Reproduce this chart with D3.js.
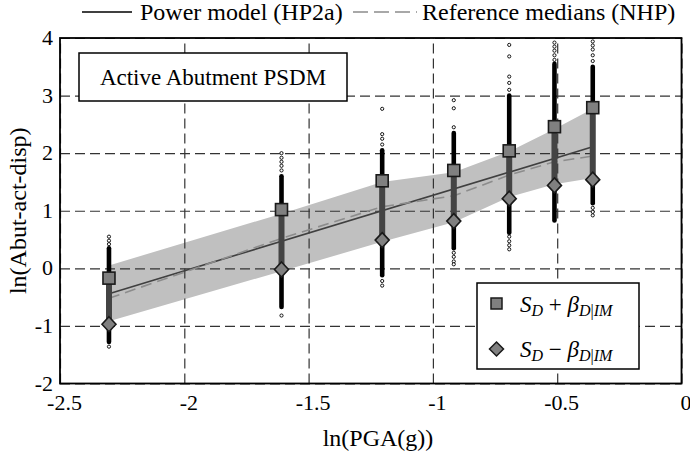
<!DOCTYPE html>
<meta charset="utf-8">
<script src="https://d3js.org/d3.v7.min.js"></script>
<style>
  body { margin: 0; background: #fff; }
  text { font-family: "Liberation Serif", "Times New Roman", serif; fill: #000; }
</style>
<svg id="chart" width="690" height="455"></svg>
<script>

// ln(PGA) of each intensity level (0.1g ... 0.7g)
const lnPGA = [-2.303, -1.609, -1.204, -0.916, -0.693, -0.511, -0.357];
// S_D + beta and S_D - beta markers
const sdPlus  = [-0.17, 1.02, 1.52, 1.70, 2.04, 2.46, 2.79];
const sdMinus = [-0.97, -0.02, 0.49, 0.82, 1.21, 1.44, 1.54];
// grey band edges
const bandUpper = [0.05, 0.95, 1.50, 1.67, 2.03, 2.42, 2.77];
const bandLower = [-0.92, -0.05, 0.46, 0.80, 1.24, 1.46, 1.57];
// reference medians (NHP)
const refMedians = [-0.52, 0.52, 1.07, 1.26, 1.62, 1.85, 1.95];
// power model (HP2a) end points [lnPGA, ln(disp)]
const powerModel = [[-2.303, -0.44], [-0.357, 2.11]];
// dense cloud of simulated responses: [low, high]
const denseRange = [[-1.28, 0.35], [-0.67, 1.60], [-0.12, 2.05], [0.35, 2.35],
                    [0.62, 3.00], [0.83, 3.55], [1.13, 3.50]];
// isolated response points per level
const outliers = [
  [0.42, 0.48, 0.55, -1.36],
  [1.70, 1.78, 1.85, 1.92, 2.00, -0.82],
  [2.15, 2.25, 2.33, 2.77, -0.22, -0.30],
  [2.45, 2.78, 2.92, 0.27, 0.20, 0.12, 0.07],
  [3.10, 3.22, 3.33, 3.68, 3.88, 0.55, 0.47, 0.40, 0.33],
  [3.62, 3.70, 3.78, 3.85, 3.92],
  [3.60, 3.70, 3.80, 3.87, 3.94, 1.05, 0.98, 0.92]
];
const xTicks = [-2.5, -2, -1.5, -1, -0.5, 0];
const yTicks = [-2, -1, 0, 1, 2, 3, 4];

const svg = d3.select("#chart");
const pLeft = 60, pRight = 681.5, pTop = 38, pBottom = 383.5;

const x = d3.scaleLinear().domain([-2.5, 0]).range([pLeft, pRight]);
const y = d3.scaleLinear().domain([-2, 4]).range([pBottom, pTop]);

// band
const band = d3.area()
  .x((d, i) => x(lnPGA[i]))
  .y0((d, i) => y(bandLower[i]))
  .y1((d, i) => y(bandUpper[i]));
svg.append("path")
  .attr("d", band(lnPGA))
  .attr("fill", "#c0c0c0");

// grid
const gx = svg.append("g")
  .attr("transform", `translate(0,${pBottom})`)
  .call(d3.axisBottom(x).tickValues(xTicks).tickSize(-(pBottom - pTop)).tickFormat(d => String(d)));
const gy = svg.append("g")
  .attr("transform", `translate(${pLeft},0)`)
  .call(d3.axisLeft(y).tickValues(yTicks).tickSize(-(pRight - pLeft)).tickFormat(d => String(d)));
[gx, gy].forEach(g => {
  g.select(".domain").remove();
  g.selectAll(".tick line")
    .attr("stroke", "#333")
    .attr("stroke-width", 1.2)
    .attr("stroke-dasharray", "10,5");
  g.selectAll(".tick text")
    .style("font-size", "22px")
    .attr("fill", "#000");
});
gx.selectAll(".tick text").attr("dy", "1.08em").attr("x", 4);
gy.selectAll(".tick text").attr("x", -7).attr("dy", "0.3em");

// model lines
svg.append("path")
  .attr("d", d3.line().x(d => x(d[0])).y(d => y(d[1]))(powerModel))
  .attr("fill", "none")
  .attr("stroke", "#404040")
  .attr("stroke-width", 1.6);
svg.append("path")
  .attr("d", d3.line().x((d, i) => x(lnPGA[i])).y(d => y(d))(refMedians))
  .attr("fill", "none")
  .attr("stroke", "#8c8c8c")
  .attr("stroke-width", 1.6)
  .attr("stroke-dasharray", "11,6");

// response columns
const cols = svg.append("g");
lnPGA.forEach((lx, i) => {
  const cx = x(lx);
  outliers[i].forEach(v => {
    cols.append("circle")
      .attr("cx", cx).attr("cy", y(v)).attr("r", 1.6)
      .attr("fill", "#fff").attr("stroke", "#000").attr("stroke-width", 0.9);
  });
  cols.append("line")
    .attr("x1", cx).attr("x2", cx)
    .attr("y1", y(denseRange[i][0])).attr("y2", y(denseRange[i][1]))
    .attr("stroke", "#000").attr("stroke-width", 4.6).attr("stroke-linecap", "round");
  cols.append("line")
    .attr("x1", cx).attr("x2", cx)
    .attr("y1", y(sdMinus[i])).attr("y2", y(sdPlus[i]))
    .attr("stroke", "#444").attr("stroke-width", 6);
  cols.append("rect")
    .attr("x", cx - 6).attr("y", y(sdPlus[i]) - 6)
    .attr("width", 12).attr("height", 12)
    .attr("fill", "#808080").attr("stroke", "#1a1a1a").attr("stroke-width", 1.6);
  cols.append("path")
    .attr("d", `M${cx},${y(sdMinus[i]) - 7.5}l7,7.5l-7,7.5l-7,-7.5z`)
    .attr("fill", "#808080").attr("stroke", "#1a1a1a").attr("stroke-width", 1.6);
});

// frame
svg.append("rect")
  .attr("x", pLeft).attr("y", pTop)
  .attr("width", pRight - pLeft).attr("height", pBottom - pTop)
  .attr("fill", "none").attr("stroke", "#000").attr("stroke-width", 1.8);

// axis titles
svg.append("text")
  .attr("x", 378).attr("y", 446)
  .attr("text-anchor", "middle")
  .style("font-size", "24px")
  .text("ln(PGA(g))");
svg.append("text")
  .attr("transform", `translate(18,${(pTop + pBottom) / 2}) rotate(-90)`)
  .attr("text-anchor", "middle")
  .attr("dy", "0.35em")
  .style("font-size", "24px")
  .text("ln(Abut-act-disp)");

// top legend
const lg = svg.append("g");
lg.append("line").attr("x1", 82).attr("x2", 132).attr("y1", 12).attr("y2", 12)
  .attr("stroke", "#000").attr("stroke-width", 1.6);
lg.append("text").attr("x", 140).attr("y", 12).attr("dy", "0.35em")
  .style("font-size", "24px").text("Power model (HP2a)");
lg.append("line").attr("x1", 353).attr("x2", 417).attr("y1", 12).attr("y2", 12)
  .attr("stroke", "#8c8c8c").attr("stroke-width", 1.6).attr("stroke-dasharray", "15,6");
lg.append("text").attr("x", 422).attr("y", 12).attr("dy", "0.35em")
  .style("font-size", "24px").text("Reference medians (NHP)");

// title box
svg.append("rect")
  .attr("x", 79).attr("y", 53).attr("width", 268).attr("height", 48)
  .attr("fill", "#fff").attr("stroke", "#000").attr("stroke-width", 1.5);
svg.append("text")
  .attr("x", 213).attr("y", 77).attr("dy", "0.35em")
  .attr("text-anchor", "middle")
  .style("font-size", "23px")
  .text("Active Abutment PSDM");

// marker legend
const mb = svg.append("g");
mb.append("rect")
  .attr("x", 477).attr("y", 283).attr("width", 162).attr("height", 86)
  .attr("fill", "#fff").attr("stroke", "#000").attr("stroke-width", 1.5);
mb.append("rect")
  .attr("x", 491).attr("y", 298).attr("width", 11).attr("height", 11)
  .attr("fill", "#808080").attr("stroke", "#1a1a1a").attr("stroke-width", 1.5);
mb.append("path")
  .attr("d", "M496.5,342l7,7l-7,7l-7,-7z")
  .attr("fill", "#808080").attr("stroke", "#1a1a1a").attr("stroke-width", 1.5);
function mathLabel(yy, sign) {
  const t = mb.append("text").attr("x", 520).attr("y", yy).style("font-size", "23px");
  t.append("tspan").style("font-style", "italic").text("S");
  t.append("tspan").style("font-style", "italic").style("font-size", "16px").attr("dy", 4).text("D");
  t.append("tspan").attr("dy", -4).text(" " + sign + " ");
  t.append("tspan").style("font-style", "italic").text("β");
  const s = t.append("tspan").style("font-size", "16px").attr("dy", 4);
  s.append("tspan").style("font-style", "italic").text("D");
  s.append("tspan").text("|");
  s.append("tspan").style("font-style", "italic").text("IM");
}
mathLabel(312, "+");
mathLabel(357, "\u2212");

</script>
